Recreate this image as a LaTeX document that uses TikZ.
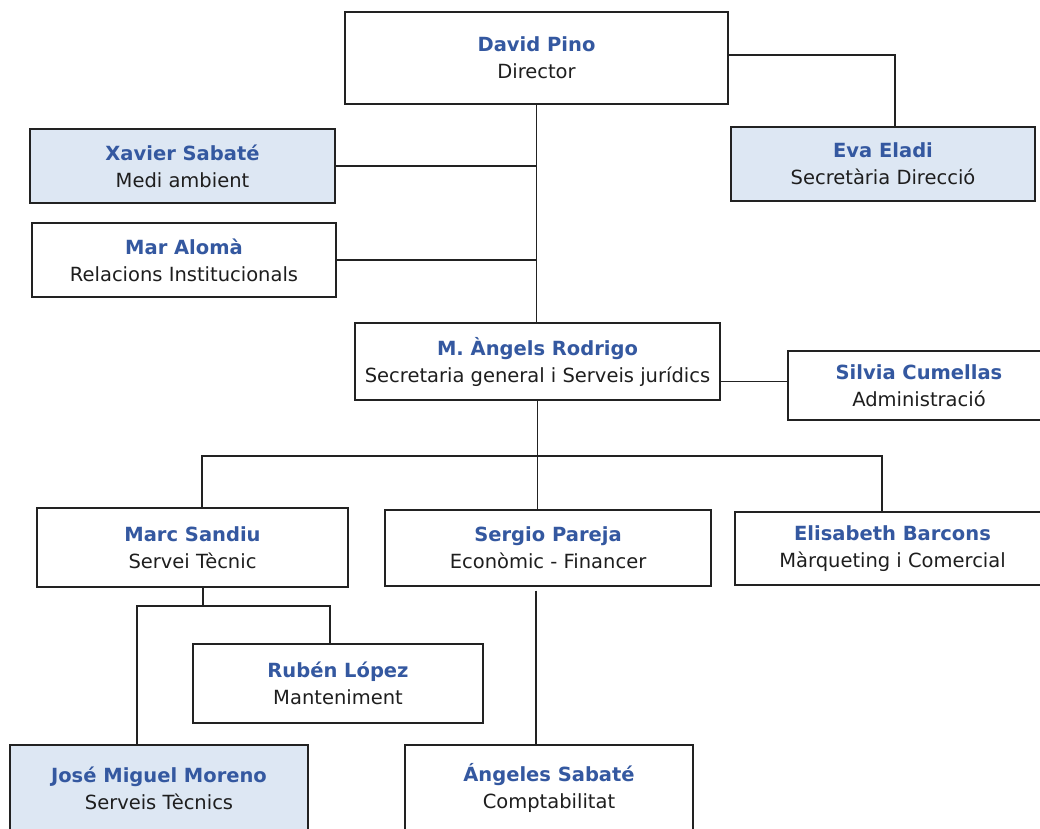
\documentclass[tikz,border=0pt]{standalone}
\usepackage{fontspec}
\setmainfont{DejaVu Sans}
\definecolor{namec}{RGB}{52,88,160}
\definecolor{fillc}{RGB}{221,231,243}
\definecolor{linec}{RGB}{34,34,34}
\definecolor{textc}{RGB}{30,30,30}
\newcommand{\nm}[1]{{\bfseries\color{namec}#1}}
\tikzset{
  box/.style={draw=linec, line width=1.3pt, fill=white, inner sep=0pt, align=center,
    text=textc, font=\fontsize{19.5}{27}\selectfont},
  hl/.style={fill=fillc},
  conn/.style={draw=linec, line width=1.3pt}
}
\begin{document}
\begin{tikzpicture}[x=1pt,y=-1pt]
\useasboundingbox (0,0) rectangle (1040,828);
\fill[white] (0,0) rectangle (1040,828);
\clip (0,0) rectangle (1040,828);

\node[box, minimum width=383, minimum height=92] (pino) at (536.5,58) {\nm{David Pino}\\Director};
\node[box, hl, minimum width=305, minimum height=74] (xavier) at (182.5,166) {\nm{Xavier Sabaté}\\Medi ambient};
\node[box, minimum width=304, minimum height=74] (mar) at (184,260) {\nm{Mar Alomà}\\Relacions Institucionals};
\node[box, hl, minimum width=304, minimum height=74] (eva) at (883,164) {\nm{Eva Eladi}\\Secretària Direcció};
\node[box, minimum width=365, minimum height=77] (rodrigo) at (537.5,361.5) {\nm{M. Àngels Rodrigo}\\Secretaria general i Serveis jurídics};
\node[box, minimum width=262, minimum height=69] (silvia) at (919,385.5) {\nm{Silvia Cumellas}\\Administració};
\node[box, minimum width=311, minimum height=79] (marc) at (192.5,547.5) {\nm{Marc Sandiu}\\Servei Tècnic};
\node[box, minimum width=326, minimum height=76] (sergio) at (548,548) {\nm{Sergio Pareja}\\Econòmic - Financer};
\node[box, minimum width=315, minimum height=73] (elis) at (892.5,548.5) {\nm{Elisabeth Barcons}\\Màrqueting i Comercial};
\node[box, minimum width=290, minimum height=79] (ruben) at (338,683.5) {\nm{Rubén López}\\Manteniment};
\node[box, hl, minimum width=298, minimum height=86] (jose) at (159,788) {\nm{José Miguel Moreno}\\Serveis Tècnics};
\node[box, minimum width=288, minimum height=86] (angeles) at (549,788) {\nm{Ángeles Sabaté}\\Comptabilitat};

% director trunk
\draw[conn] (pino.south) -- (pino.south |- rodrigo.north);
\draw[conn] (xavier.east) -- (xavier.east -| pino.south);
\draw[conn] (mar.east) -- (mar.east -| pino.south);
\coordinate (evatop) at ([xshift=12]eva.north);
\coordinate (pinor) at ([yshift=3]pino.east);
\draw[conn] (pinor) -| (evatop);

% secretaria
\coordinate (silvl) at ([yshift=4]silvia.west);
\draw[conn] (silvl) -- (silvl -| rodrigo.east);

% bus
\coordinate (busy) at (0,456);
\coordinate (marctop) at ([xshift=9.5]marc.north);
\coordinate (elistop) at ([xshift=-10.5]elis.north);
\draw[conn] (rodrigo.south) -- (rodrigo.south |- sergio.north);
\draw[conn] (marctop) |- (busy -| elistop) -- (elistop);

% marc sub
\coordinate (suby) at (0,606);
\coordinate (marcbot) at ([xshift=10.5]marc.south);
\coordinate (rubtop) at ([xshift=-8]ruben.north);
\coordinate (josetop) at ([xshift=-22]jose.north);
\draw[conn] (marcbot) -- (marcbot |- suby);
\draw[conn] (josetop) |- (suby -| rubtop) -- (rubtop);

% sergio sub
\coordinate (sergbot) at ([xshift=-12,yshift=-4]sergio.south);
\draw[conn] (sergbot) -- (sergbot |- angeles.north);
\end{tikzpicture}
\end{document}
